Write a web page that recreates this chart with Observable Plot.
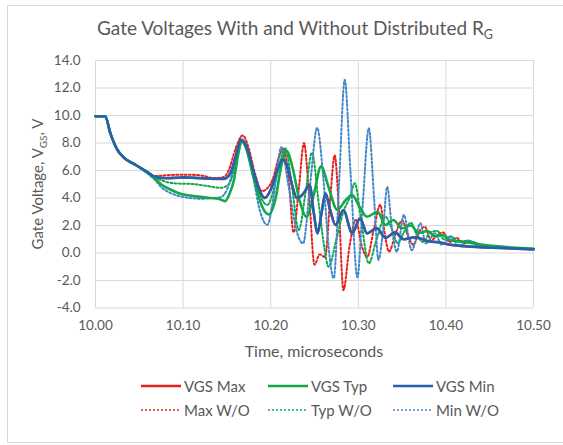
<!DOCTYPE html>
<html><head><meta charset="utf-8">
<script src="https://cdn.jsdelivr.net/npm/d3@7"></script>
<script src="https://cdn.jsdelivr.net/npm/@observablehq/plot@0.6"></script>
<style>
body{margin:0;background:#fff;font-family:Lato,"Open Sans",sans-serif;}
#wrap{position:relative;width:563px;height:445px;overflow:hidden;background:#fff;}
#frame{position:absolute;left:7px;top:5px;width:560px;height:438px;border:1px solid #d9d9d9;box-sizing:border-box;}
#title{position:absolute;top:16px;left:0;width:590px;text-align:center;font-size:19px;color:#595959;white-space:nowrap;}
#title sub{font-size:12.5px;vertical-align:-4px;line-height:0;}
#chart{position:absolute;left:0;top:0;}
.lg{position:absolute;font-size:15px;color:#595959;white-space:nowrap;display:flex;align-items:center;}
.lg svg{margin-right:3px;}
</style></head>
<body>
<div id="wrap">
  <div id="frame"></div>
  <div id="chart"></div>
  <div id="title">Gate Voltages With and Without Distributed R<sub>G</sub></div>
  <div id="legend"></div>
</div>
<script>
const xTicks = [10.0, 10.1, 10.2, 10.3, 10.4, 10.5];
const yTicks = [-4, -2, 0, 2, 4, 6, 8, 10, 12, 14];
const seriesNames = ["VGS Max", "VGS Typ", "VGS Min", "Max W/O", "Typ W/O", "Min W/O"];

const vgsMax = [[10.000,9.95],[10.011,9.95],[10.017,8.7],[10.025,7.5],[10.032,6.96],[10.046,6.4],[10.059,5.9],[10.068,5.53],[10.08,5.43],[10.10,5.48],[10.12,5.43],[10.135,5.38],[10.146,5.38],[10.154,5.78],[10.160,7.0],[10.166,8.2],[10.172,7.8],[10.18,6.0],[10.187,4.6],[10.193,4.0],[10.200,4.6],[10.207,5.9],[10.2137,6.78],[10.22,6.1],[10.225,4.8],[10.230,3.98],[10.237,4.3],[10.2445,4.93],[10.249,3.0],[10.2535,1.43],[10.258,2.9],[10.2625,4.32],[10.268,3.1],[10.274,2.04],[10.283,3.12],[10.293,1.43],[10.302,2.5],[10.31,1.43],[10.321,1.8],[10.331,1.1],[10.342,1.5],[10.352,1.0],[10.365,1.15],[10.38,0.85],[10.395,0.75],[10.405,0.6],[10.42,0.5],[10.44,0.42],[10.46,0.37],[10.48,0.32],[10.50,0.27]];
const vgsTyp = [[10.000,9.95],[10.011,9.95],[10.017,8.7],[10.025,7.5],[10.032,6.96],[10.046,6.4],[10.059,5.85],[10.068,5.4],[10.076,4.95],[10.086,4.6],[10.095,4.35],[10.108,4.18],[10.12,4.08],[10.131,4.0],[10.14,3.95],[10.148,3.77],[10.153,4.3],[10.158,5.3],[10.163,7.2],[10.167,8.15],[10.172,7.6],[10.18,5.6],[10.19,3.4],[10.198,2.8],[10.205,3.8],[10.212,6.3],[10.218,7.44],[10.225,6.2],[10.233,3.8],[10.241,2.64],[10.249,4.2],[10.2575,6.3],[10.266,4.8],[10.276,3.13],[10.285,3.8],[10.293,4.22],[10.301,3.4],[10.31,2.64],[10.322,3.0],[10.331,2.04],[10.34,2.4],[10.35,1.8],[10.36,2.0],[10.369,1.45],[10.379,1.6],[10.388,1.2],[10.396,1.3],[10.405,0.95],[10.42,0.82],[10.44,0.62],[10.46,0.48],[10.48,0.38],[10.50,0.3]];
const vgsMin = [[10.000,9.95],[10.011,9.95],[10.017,8.7],[10.025,7.5],[10.032,6.96],[10.046,6.4],[10.059,5.9],[10.068,5.55],[10.08,5.45],[10.10,5.5],[10.12,5.45],[10.135,5.4],[10.146,5.4],[10.154,5.8],[10.160,7.0],[10.166,8.2],[10.172,7.8],[10.18,6.0],[10.187,4.6],[10.193,4.0],[10.200,4.6],[10.207,5.9],[10.2137,6.8],[10.22,6.1],[10.225,4.8],[10.230,3.98],[10.237,4.3],[10.2445,4.95],[10.249,3.0],[10.2535,1.43],[10.258,2.9],[10.2625,4.34],[10.268,3.1],[10.274,2.04],[10.283,3.13],[10.293,1.43],[10.302,2.52],[10.31,1.43],[10.321,1.8],[10.331,1.1],[10.342,1.5],[10.352,1.0],[10.365,1.15],[10.38,0.85],[10.395,0.75],[10.405,0.6],[10.42,0.5],[10.44,0.42],[10.46,0.37],[10.48,0.32],[10.50,0.27]];
const maxWO = [[10.000,9.95],[10.011,9.95],[10.017,8.7],[10.025,7.5],[10.032,6.96],[10.046,6.4],[10.059,5.9],[10.068,5.6],[10.08,5.65],[10.10,5.7],[10.12,5.65],[10.135,5.45],[10.145,5.5],[10.152,6.0],[10.16,7.6],[10.168,8.55],[10.175,7.6],[10.182,5.8],[10.19,4.5],[10.196,4.7],[10.202,5.3],[10.209,6.9],[10.215,7.6],[10.221,5.0],[10.226,1.5],[10.232,4.6],[10.238,8.0],[10.244,4.0],[10.25,-0.85],[10.256,-0.1],[10.262,-0.3],[10.268,4.0],[10.273,7.1],[10.278,3.0],[10.283,-2.7],[10.29,0.5],[10.297,2.4],[10.304,0.5],[10.31,-0.3],[10.318,1.8],[10.325,3.5],[10.33,1.5],[10.335,0.1],[10.343,1.5],[10.35,2.36],[10.357,1.2],[10.363,0.6],[10.37,1.6],[10.376,1.9],[10.383,0.9],[10.39,1.3],[10.397,1.5],[10.404,0.8],[10.412,1.1],[10.42,0.7],[10.43,0.8],[10.44,0.55],[10.46,0.45],[10.48,0.35],[10.50,0.3]];
const typWO = [[10.000,9.95],[10.011,9.95],[10.017,8.7],[10.025,7.5],[10.032,6.96],[10.046,6.4],[10.059,5.9],[10.068,5.5],[10.075,5.3],[10.082,5.15],[10.095,5.05],[10.108,5.03],[10.125,4.9],[10.143,4.74],[10.152,5.0],[10.158,6.0],[10.163,7.4],[10.168,8.2],[10.174,7.4],[10.182,5.5],[10.19,3.9],[10.196,3.5],[10.203,4.5],[10.21,6.5],[10.217,7.6],[10.224,5.0],[10.232,1.67],[10.24,4.5],[10.247,7.3],[10.255,3.5],[10.261,0.5],[10.266,-1.0],[10.275,1.0],[10.283,3.0],[10.29,4.0],[10.296,5.07],[10.303,2.5],[10.312,-0.75],[10.32,0.8],[10.331,2.64],[10.338,1.8],[10.345,0.7],[10.352,1.5],[10.36,2.2],[10.367,1.3],[10.374,0.8],[10.382,1.5],[10.39,1.6],[10.398,1.0],[10.406,1.2],[10.415,0.8],[10.425,0.9],[10.44,0.6],[10.46,0.45],[10.48,0.35],[10.50,0.3]];
const minWO = [[10.000,9.95],[10.011,9.95],[10.017,8.7],[10.025,7.5],[10.032,6.96],[10.046,6.4],[10.059,5.8],[10.068,5.3],[10.075,4.8],[10.086,4.35],[10.095,4.15],[10.108,4.0],[10.12,3.95],[10.135,4.0],[10.143,4.06],[10.15,4.6],[10.157,6.0],[10.163,7.6],[10.167,8.3],[10.173,7.5],[10.18,5.5],[10.188,3.0],[10.196,2.05],[10.203,4.0],[10.208,6.5],[10.212,7.69],[10.22,5.0],[10.23,1.5],[10.237,0.7],[10.245,5.0],[10.253,9.1],[10.26,5.5],[10.266,0.5],[10.272,-1.84],[10.278,5.0],[10.2845,12.6],[10.291,6.0],[10.299,-1.77],[10.305,3.5],[10.312,9.07],[10.318,4.0],[10.323,-0.5],[10.328,1.5],[10.333,4.8],[10.338,2.0],[10.344,0.1],[10.352,2.76],[10.361,0.2],[10.371,2.16],[10.377,0.7],[10.388,1.43],[10.395,0.6],[10.405,1.2],[10.415,0.5],[10.425,0.9],[10.44,0.45],[10.46,0.4],[10.48,0.3],[10.50,0.25]];

const RED = "#e8201c", GREEN = "#12a84a", BLUE = "#2562ad", BLUE_D = "#3f88cb";
const series = [
  {name: seriesNames[0], data: vgsMax, color: RED, dash: null, w: 2.4},
  {name: seriesNames[3], data: maxWO, color: RED, dash: "2,2.2", w: 2},
  {name: seriesNames[4], data: typWO, color: GREEN, dash: "2,2.2", w: 2},
  {name: seriesNames[5], data: minWO, color: BLUE_D, dash: "2,2.2", w: 2},
  {name: seriesNames[1], data: vgsTyp, color: GREEN, dash: null, w: 2.6},
  {name: seriesNames[2], data: vgsMin, color: BLUE, dash: null, w: 2.6}
];

const lineMarks = series.map(s => Plot.line(s.data.map(([t, v]) => ({t, v})), {
  x: "t", y: "v", stroke: s.color, strokeWidth: s.w, strokeDasharray: s.dash || undefined,
  curve: "monotone-x", strokeLinejoin: "round"
}));

const svg = Plot.plot({
  width: 563, height: 370,
  marginLeft: 95, marginRight: 30, marginTop: 60, marginBottom: 62.5,
  style: {fontFamily: "Lato, 'Open Sans', sans-serif", fontSize: "13.5px", color: "#595959", background: "transparent"},
  x: {domain: [10, 10.5]},
  y: {domain: [-4, 14]},
  marks: [
    Plot.gridX(xTicks, {stroke: "#d9d9d9", strokeOpacity: 1, strokeWidth: 1}),
    Plot.gridY(yTicks, {stroke: "#d9d9d9", strokeOpacity: 1, strokeWidth: 1}),
    Plot.axisX(xTicks, {tickSize: 0, tickPadding: 12, tickFormat: d => d.toFixed(2), label: null, fill: "#595959"}),
    Plot.axisY(yTicks, {tickSize: 0, tickPadding: 15, tickFormat: d => d.toFixed(1), label: null, fill: "#595959"}),
    ...lineMarks
  ]
});
document.getElementById("chart").appendChild(svg);

const s = d3.select(svg);
s.append("text").attr("x", 314).attr("y", 357).attr("text-anchor", "middle")
  .attr("font-size", 16).attr("fill", "#595959").text("Time, microseconds");
const yl = s.append("text").attr("transform", "translate(43,184) rotate(-90)")
  .attr("text-anchor", "middle").attr("font-size", 15).attr("fill", "#595959");
yl.append("tspan").text("Gate Voltage, V");
yl.append("tspan").attr("font-size", 10).attr("dy", 4).text("GS");
yl.append("tspan").attr("dy", -4).text(", V");

const legend = document.getElementById("legend");
const legendPos = [
  {i: 0, x: 141, y: 386, color: RED, dash: null},
  {i: 1, x: 268, y: 386, color: GREEN, dash: null},
  {i: 2, x: 393, y: 386, color: BLUE, dash: null},
  {i: 3, x: 141, y: 410, color: RED, dash: "2,2"},
  {i: 4, x: 268, y: 410, color: GREEN, dash: "2,2"},
  {i: 5, x: 393, y: 410, color: BLUE_D, dash: "2,2"}
];
for (const p of legendPos) {
  const d = document.createElement("div");
  d.className = "lg";
  d.style.left = p.x + "px";
  d.style.top = (p.y - 10) + "px";
  d.style.height = "20px";
  d.innerHTML = `<svg width="40" height="6"><line x1="0" x2="40" y1="3" y2="3" stroke="${p.color}" stroke-width="${p.dash ? 1.6 : 2.4}" ${p.dash ? `stroke-dasharray="${p.dash}"` : ""}/></svg><span>${seriesNames[p.i]}</span>`;
  legend.appendChild(d);
}
</script>
</body></html>
